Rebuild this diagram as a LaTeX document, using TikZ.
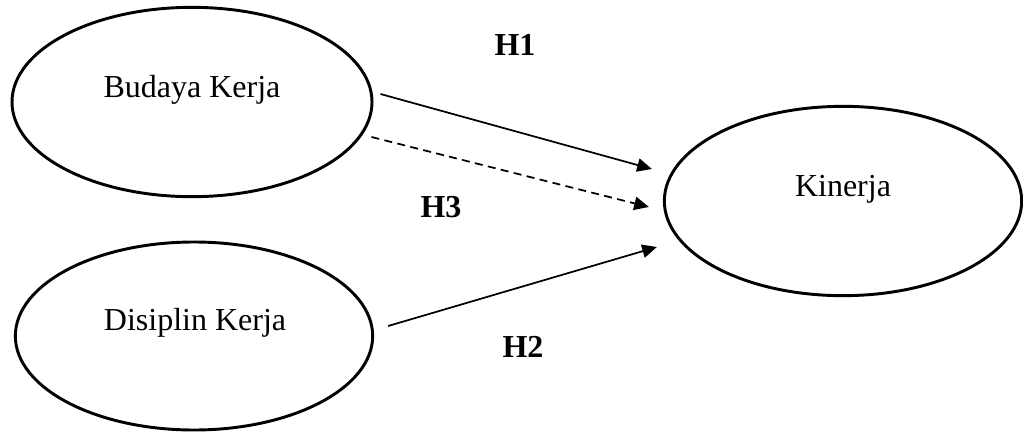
\documentclass[tikz,border=0pt]{standalone}
\usepackage{fontspec}
\setmainfont{Liberation Serif}
\usetikzlibrary{shapes.geometric,arrows.meta}
\begin{document}
\begin{tikzpicture}[x=0.75pt,y=-0.75pt,
  ell/.style={draw=black,line width=2.2pt,ellipse,inner sep=0pt},
  lbl/.style={font=\fontsize{24}{28}\selectfont,anchor=base,inner sep=0pt},
  hlbl/.style={font=\fontsize{24}{28}\selectfont\bfseries,anchor=base,inner sep=0pt},
  conn/.style={line width=1.3pt,-{Triangle[length=11pt,width=10pt]}},
  dconn/.style={conn,dash pattern=on 6pt off 4pt}]
\useasboundingbox (0,0) rectangle (1023,432);
\fill[white] (0,0) rectangle (1023,432);
\node[ell,minimum width=270pt,minimum height=142pt] (bk) at (192,102) {};
\node[ell,minimum width=268pt,minimum height=141pt] (dk) at (194,336) {};
\node[ell,minimum width=268pt,minimum height=142pt] (kn) at (843,201) {};
\node[lbl] (tbk) at (192,97) {Budaya Kerja};
\node[lbl] (tdk) at (195,330) {Disiplin Kerja};
\node[lbl] (tkn) at (843,196) {Kinerja};
\node[hlbl] (h1) at (515,55) {H1};
\node[hlbl] (h3) at (441,217) {H3};
\node[hlbl] (h2) at (523,357) {H2};
\draw[conn] ([shift={(7,-8)}]bk.east) -- ([shift={(-11,-32)}]kn.west);
\draw[dconn] ([shift={(-2,35)}]bk.east) -- ([shift={(-14,6)}]kn.west);
\draw[conn] ([shift={(14,-10)}]dk.east) -- ([shift={(-6,46)}]kn.west);
\end{tikzpicture}
\end{document}
